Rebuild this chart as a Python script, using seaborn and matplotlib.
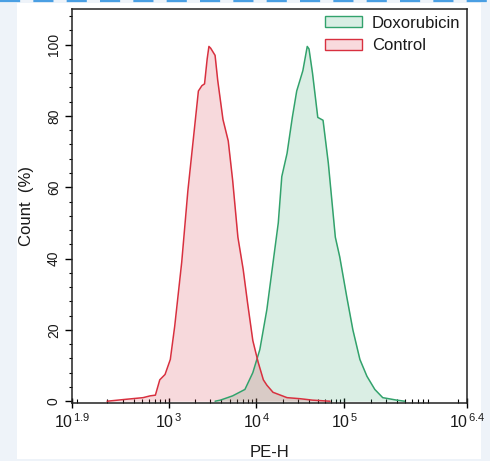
import numpy as np
import pandas as pd
import seaborn as sns
import matplotlib
matplotlib.use("Agg")
import matplotlib.pyplot as plt
from matplotlib.patches import Patch, Rectangle
from matplotlib.lines import Line2D
from matplotlib.ticker import LogLocator, NullFormatter

# ---- data (log10 of PE-H, count %) ----
control_log = [2.30, 2.50, 2.71, 2.79, 2.85, 2.90, 2.96, 3.02, 3.07, 3.15, 3.22, 3.28,
               3.34, 3.38, 3.41, 3.44, 3.46, 3.48, 3.53, 3.56, 3.62, 3.68, 3.73, 3.79,
               3.85, 3.90, 3.96, 4.02, 4.08, 4.12, 4.19, 4.35, 4.50, 4.64, 4.84]
control_cnt = [0.0, 0.5, 1.0, 1.5, 1.7, 6.0, 7.5, 11.7, 21.0, 39.0, 59.0, 73.0,
               87.0, 88.5, 89.0, 96.0, 99.5, 99.0, 97.0, 90.0, 79.0, 73.0, 62.0, 46.0,
               37.0, 27.6, 17.0, 11.0, 6.0, 4.5, 2.5, 1.0, 0.7, 0.3, 0.0]

doxo_log = [3.53, 3.59, 3.73, 3.87, 3.96, 4.04, 4.12, 4.19, 4.25, 4.29, 4.35, 4.41,
            4.46, 4.53, 4.58, 4.60, 4.64, 4.70, 4.76, 4.82, 4.90, 4.95, 5.03, 5.10,
            5.18, 5.26, 5.35, 5.44, 5.60, 5.69]
doxo_cnt = [0.0, 0.3, 1.5, 3.3, 8.0, 14.5, 25.7, 38.8, 50.0, 63.0, 69.5, 79.6,
            87.0, 92.7, 99.5, 98.8, 92.0, 79.6, 78.8, 66.8, 46.0, 40.5, 29.3, 20.0,
            11.7, 7.0, 3.3, 1.0, 0.3, 0.0]

series_names = ["Doxorubicin", "Control"]
tick_exps = [1.9, 3, 4, 5, 6.4]
tick_labels = [r"$10^{\,1.9}$", r"$10^{\,3}$", r"$10^{\,4}$", r"$10^{\,5}$", r"$10^{\,6.4}$"]
y_ticks = [0, 20, 40, 60, 80, 100]

RED = "#d8303f"
GREEN = "#32a26c"
TXT = "#1a1a1a"

sns.set_theme(style="white")
plt.rcParams["font.family"] = ["Liberation Sans", "DejaVu Sans"]
plt.rcParams["mathtext.fontset"] = "custom"
plt.rcParams["mathtext.rm"] = "Liberation Sans"
plt.rcParams["mathtext.it"] = "Liberation Sans"
plt.rcParams["lines.scale_dashes"] = False

fig = plt.figure(figsize=(4.90, 4.61), dpi=100, facecolor="#eef3f9")
# white panel and dashed top line
fig.patches.append(Rectangle((17 / 490, 1 - 459 / 461), (481 - 17) / 490, (459 - 3) / 461,
                             transform=fig.transFigure, facecolor="white", edgecolor="none", zorder=-5))
fig.lines.append(Line2D([0, 1], [1 - 1.5 / 461, 1 - 1.5 / 461], transform=fig.transFigure,
                        color="#4a9fe3", lw=1.6, ls=(0, (14.5, 9.5)), zorder=5))

ax = fig.add_axes([72 / 490, 1 - 403 / 461, (467 - 72) / 490, (403 - 9) / 461])
ax.set_zorder(1)
ax.set_facecolor("white")

df_c = pd.DataFrame({"x": 10 ** np.array(control_log), "y": control_cnt})
df_d = pd.DataFrame({"x": 10 ** np.array(doxo_log), "y": doxo_cnt})

ax.set_xscale("log")
ax.fill_between(df_d["x"], df_d["y"], color=GREEN, alpha=0.18, lw=0)
ax.fill_between(df_c["x"], df_c["y"], color=RED, alpha=0.18, lw=0)
sns.lineplot(data=df_d, x="x", y="y", color=GREEN, lw=1.1, ax=ax, sort=False, estimator=None)
sns.lineplot(data=df_c, x="x", y="y", color=RED, lw=1.1, ax=ax, sort=False, estimator=None)

ax.set_xlim(10 ** 1.9, 10 ** 6.4)
ax.set_ylim(-0.5, 110)

ax.set_xticks([10 ** e for e in tick_exps])
ax.set_xticklabels(tick_labels, fontsize=11.5, color=TXT)
ax.xaxis.set_minor_locator(LogLocator(base=10, subs=np.arange(2, 10), numticks=20))
ax.xaxis.set_minor_formatter(NullFormatter())
ax.set_yticks(y_ticks)
ax.set_yticks(np.arange(0, 110, 4), minor=True)
ax.set_yticklabels([str(v) for v in y_ticks], fontsize=10, rotation=90, va="center", color=TXT)

ax.tick_params(axis="x", which="major", direction="inout", length=7, width=1, color="black",
               bottom=True, pad=3)
ax.tick_params(axis="x", which="minor", direction="in", length=3, width=0.8, color="black", bottom=True)
ax.tick_params(axis="y", which="major", direction="out", length=5, width=1, color="black", left=True, pad=3)
ax.tick_params(axis="y", which="minor", direction="out", length=2.5, width=0.8, color="black", left=True)

for s in ax.spines.values():
    s.set_visible(True)
    s.set_color("#222222")
    s.set_linewidth(1.1)

ax.set_xlabel("PE-H", fontsize=12, labelpad=10, color=TXT)
ax.set_ylabel("Count  (%)", fontsize=12, color=TXT)
ax.yaxis.set_label_coords(-0.097, 0.5)

handles = [Patch(facecolor="#d9eee4", edgecolor=GREEN, lw=1.0, label=series_names[0]),
           Patch(facecolor="#f9dadd", edgecolor=RED, lw=1.0, label=series_names[1])]
leg = ax.legend(handles=handles, loc="upper right", frameon=False, fontsize=12,
                handlelength=2.2, handleheight=0.66, handletextpad=0.6, labelspacing=0.45,
                borderpad=0.3, borderaxespad=0.1, bbox_to_anchor=(1.0, 1.0))
for t in leg.get_texts():
    t.set_color(TXT)

fig.savefig("out.png", dpi=100, facecolor=fig.get_facecolor())
